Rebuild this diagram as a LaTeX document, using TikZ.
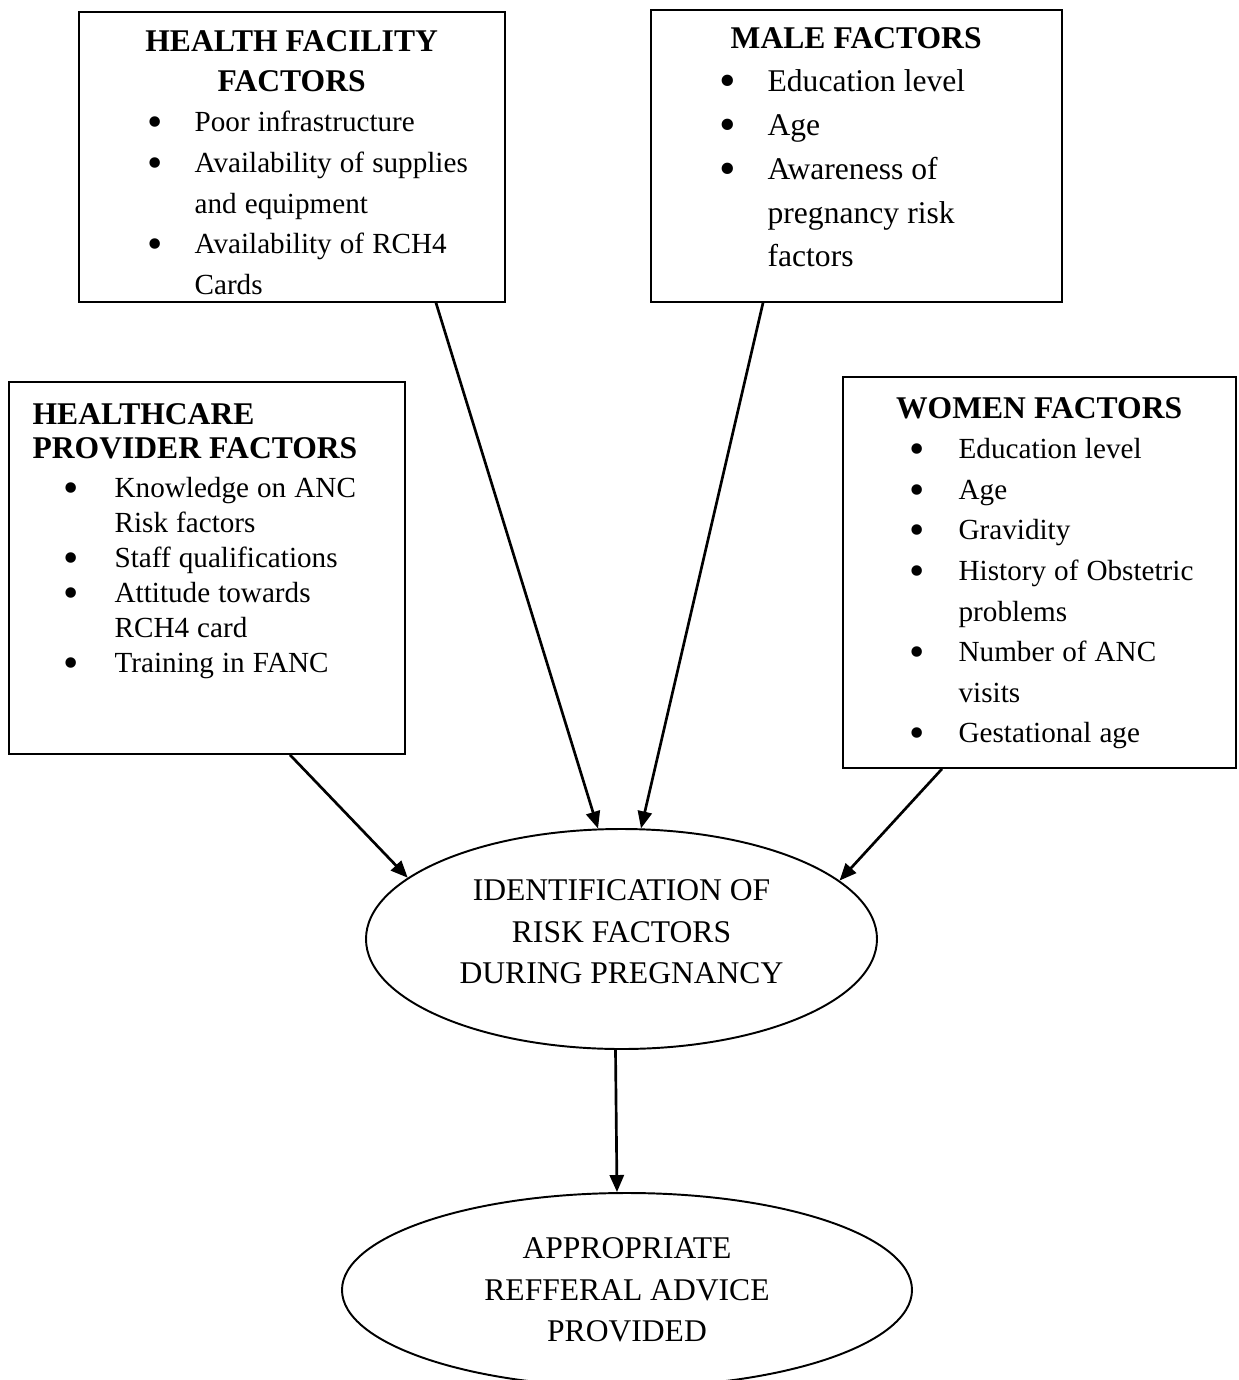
\documentclass[tikz,border=0pt]{standalone}
\usepackage{fontspec}
\setmainfont{Liberation Serif}
\usetikzlibrary{shapes.geometric, arrows.meta, positioning, calc}

\newlength\px
\setlength\px{0.4115pt}
\newlength\bulx
\newlength\txtx
\newcommand\headfont{\fontsize{13}{16.5}\selectfont\bfseries}
\newcommand\bodyfont[2]{\fontsize{#1}{#2}\selectfont}
\newcommand\setbullets[2]{\setlength\bulx{#1\px}\setlength\txtx{#2\px}}
\newcommand\nl{\hfil\break}
\newcommand\bitem{\par\hangindent=\txtx\hangafter=1\noindent
  \makebox[\txtx][l]{\hspace*{\bulx}\makebox[0pt]{\smash{\raisebox{-2pt}{\scalebox{1.5}{\textbullet}}}}}}

\begin{document}
\begin{tikzpicture}[
    x=0.4115pt, y=-0.4115pt,
    frame/.style={rectangle, draw, line width=0.7pt, inner sep=0pt},
    txt/.style={inner sep=0pt, anchor=base west},
    oval/.style={ellipse, draw, line width=0.8pt, inner sep=0pt, align=center,
                 font=\fontsize{13}{17}\selectfont},
    arr/.style={-{Triangle[length=7pt, width=5.8pt]}, line width=1.1pt}
]
    \useasboundingbox (0,0) rectangle (1239,1380);

    \node[frame, minimum width=426\px, minimum height=290\px] (hf) at (292,157) {};
    \node[frame, minimum width=411\px, minimum height=292\px] (male) at (856.5,156) {};
    \node[frame, minimum width=396\px, minimum height=372\px] (prov) at (207,568) {};
    \node[frame, minimum width=393\px, minimum height=391\px] (women) at (1039.5,572.5) {};

    \node[txt, text width=426\px] (hfText) at ([shift={(0,40)}]hf.north west) {%
        {\centering\headfont HEALTH FACILITY\\FACTORS\par}
        \bodyfont{12}{16.7}\setbullets{77}{116}%
        \bitem Poor infrastructure
        \bitem Availability of supplies\nl and equipment
        \bitem Availability of RCH4\nl Cards\par};
    \node[txt, text width=411\px] (maleText) at ([shift={(0,39)}]male.north west) {%
        {\centering\headfont MALE FACTORS\par}
        \bodyfont{13}{18}\setbullets{77}{117}%
        \bitem Education level
        \bitem Age
        \bitem Awareness of\nl pregnancy risk\nl factors\par};
    \node[txt, text width=372\px] (provText) at ([shift={(24,43)}]prov.north west) {%
        {\noindent\fontsize{13}{14.2}\selectfont\bfseries HEALTHCARE\\PROVIDER FACTORS\par}
        \bodyfont{12}{14.4}\setbullets{39}{82}%
        \vspace{1.5pt}%
        \bitem Knowledge on ANC\nl Risk factors
        \bitem Staff qualifications
        \bitem Attitude towards\nl RCH4 card
        \bitem Training in FANC\par};
    \node[txt, text width=393\px] (womenText) at ([shift={(0,42)}]women.north west) {%
        {\centering\headfont WOMEN FACTORS\par}
        \bodyfont{12}{16.7}\setbullets{75}{116}%
        \bitem Education level
        \bitem Age
        \bitem Gravidity
        \bitem History of Obstetric\nl problems
        \bitem Number of ANC\nl visits
        \bitem Gestational age\par};

    \node[oval, minimum width=511\px, minimum height=220\px] (ident) at (621.5,939)
        {IDENTIFICATION OF\\RISK FACTORS\\DURING PREGNANCY\\[-11pt]\mbox{}};
    \node[oval, minimum width=570\px, minimum height=194\px] (appr) at (627,1290)
        {APPROPRIATE\\REFFERAL ADVICE\\PROVIDED};

    \draw[arr] ([xshift=144\px]hf.south) -- (ident.102);
    \draw[arr] ([xshift=-93.5\px]male.south) -- (ident.80);
    \draw[arr] ([xshift=83\px]prov.south) -- (ident.164);
    \draw[arr] ([xshift=-97.5\px]women.south) -- (ident.15);
    \draw[arr] ([xshift=-6\px]ident.south) -- ([xshift=-10\px]appr.north);
\end{tikzpicture}
\end{document}
